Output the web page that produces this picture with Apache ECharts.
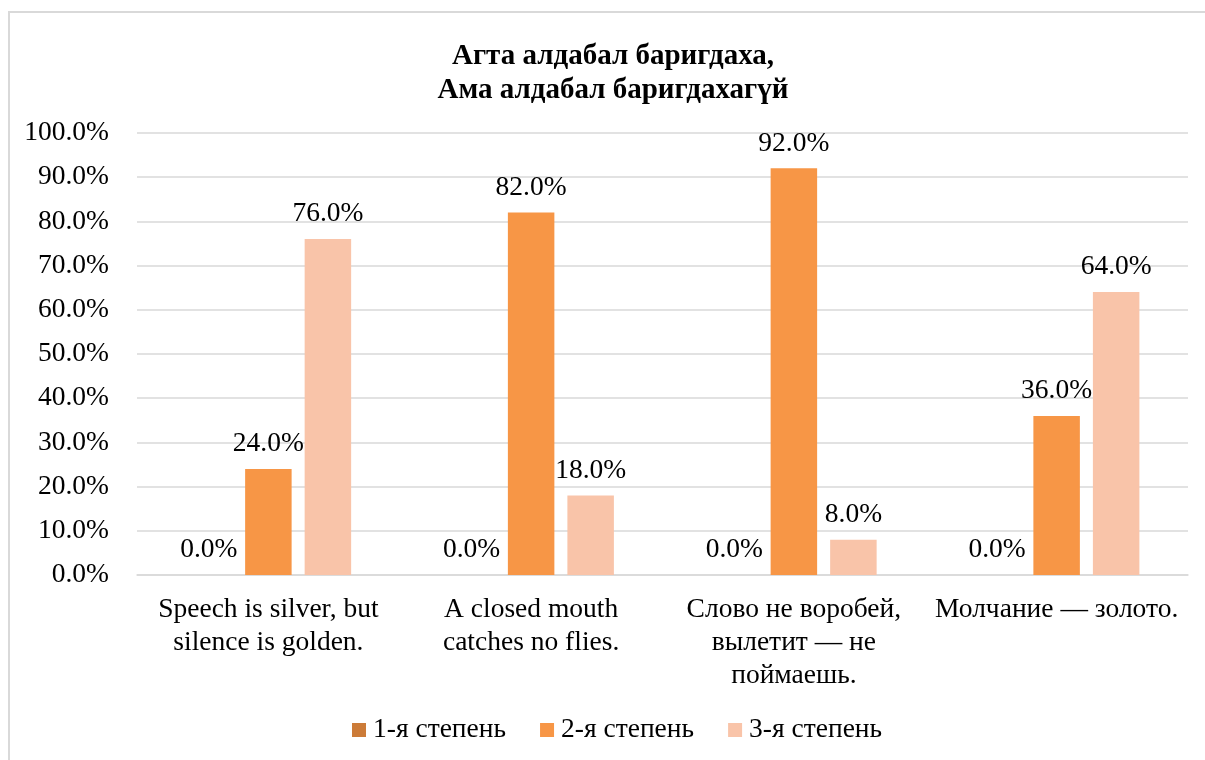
<!DOCTYPE html>
<html>
<head>
<meta charset="utf-8">
<script src="https://cdn.jsdelivr.net/npm/echarts@6/dist/echarts.min.js"></script>
<style>
  body { margin: 0; background: #fff; }
  #frame { position: absolute; left: 8px; top: 11px; width: 1205px; height: 760px; border: 2px solid #d9d9d9; box-sizing: border-box; }
  #chart { position: absolute; left: 0; top: 0; width: 1205px; height: 760px; }
</style>
</head>
<body>
<div id="frame"></div>
<div id="chart"></div>
<script>
  // категории (подписи оси X, с переносами как в оригинале)
  const categories = [
    'Speech is silver, but\nsilence is golden.',
    'A closed mouth\ncatches no flies.',
    'Слово не воробей,\nвылетит — не\nпоймаешь.',
    'Молчание — золото.'
  ];
  const seriesNames = ['1-я степень', '2-я степень', '3-я степень'];
  const degree1 = [0, 0, 0, 0];
  const degree2 = [24, 82, 92, 36];
  const degree3 = [76, 18, 8, 64];
  const colors = ['#cc7b38', '#f79646', '#f9c4a9'];

  const font = 'Liberation Serif';
  const fs = 27.5;
  const chart = echarts.init(document.getElementById('chart'));

  function bar(name, data, color) {
    return {
      name: name,
      type: 'bar',
      data: data,
      barGap: '28%',
      barCategoryGap: '37%',
      itemStyle: { color: color },
      label: {
        show: true,
        position: 'top',
        distance: 11,
        fontFamily: font,
        fontSize: fs,
        color: '#000',
        formatter: p => p.value.toFixed(1) + '%'
      }
    };
  }

  chart.setOption({
    animation: false,
    backgroundColor: 'transparent',
    title: {
      text: 'Агта алдабал баригдаха,\nАма алдабал баригдахагүй',
      left: 608,
      top: 35,
      textAlign: 'center',
      textStyle: { fontFamily: font, fontSize: 29, fontWeight: 'bold', color: '#000', lineHeight: 34 }
    },
    legend: {
      data: seriesNames,
      bottom: 11,
      left: 347,
      itemWidth: 14,
      itemHeight: 14,
      itemGap: 34,
      icon: 'rect',
      textStyle: { fontFamily: font, fontSize: fs, color: '#000', padding: [0, 0, 0, 2] }
    },
    grid: { left: 137, right: 17, top: 133, bottom: 185, containLabel: false },
    xAxis: {
      type: 'category',
      data: categories,
      axisLine: { lineStyle: { color: '#d9d9d9', width: 1.5 } },
      axisTick: { show: false },
      axisLabel: { fontFamily: font, fontSize: fs, color: '#000', lineHeight: 33, margin: 18, interval: 0 }
    },
    yAxis: {
      type: 'value',
      min: 0,
      max: 100,
      interval: 10,
      axisLine: { show: false },
      axisTick: { show: false },
      splitLine: { lineStyle: { color: '#d9d9d9', width: 1.5 } },
      axisLabel: { fontFamily: font, fontSize: fs, color: '#000', margin: 28, formatter: v => v.toFixed(1) + '%' }
    },
    series: [
      bar(seriesNames[0], degree1, colors[0]),
      bar(seriesNames[1], degree2, colors[1]),
      bar(seriesNames[2], degree3, colors[2])
    ]
  });
</script>
</body>
</html>
